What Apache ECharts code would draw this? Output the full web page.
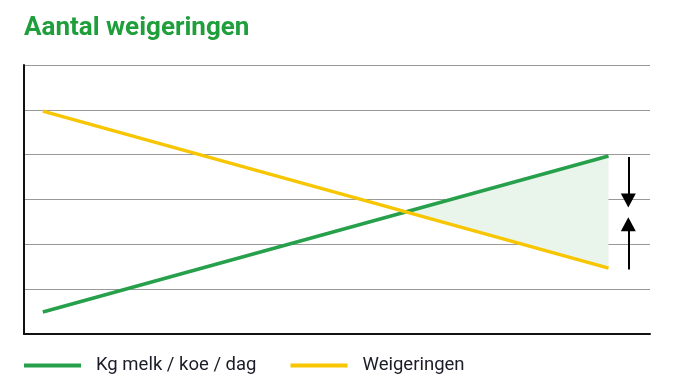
<!DOCTYPE html>
<html><head><meta charset="utf-8">
<script src="https://cdn.jsdelivr.net/npm/echarts@6/dist/echarts.min.js"></script>
<style>html,body{margin:0;padding:0;background:#fff}#c{width:674px;height:388px}</style>
</head><body><div id="c"></div>
<script>
const titleText = 'Aantal weigeringen';
const seriesNames = ['Kg melk / koe / dag', 'Weigeringen'];
const xPoints = [1, 31];
const melk = [0.49, 3.97];
const weigeringen = [4.97, 1.47];
// shaded gap region between the lines: crossing point, top end, bottom end
const gapPolygon = [[20.3, 2.72], [31, 3.97], [31, 1.47]];
// arrows beside the gap
const arrowX = 32.05;
const arrowDown = [3.95, 2.98];
const arrowUp = [1.44, 2.45];

const chart = echarts.init(document.getElementById('c'));
chart.setOption({
  animation: false,
  title: { text: titleText, left: 19, top: 10,
    textStyle: { color: '#1f9e3c', fontSize: 26, fontWeight: 'bold', fontFamily: 'Roboto' } },
  grid: { left: 24, right: 24, top: 65, bottom: 54 },
  xAxis: { type: 'value', min: 0, max: 33.2,
    axisLine: { show: true, lineStyle: { color: '#111', width: 2 } },
    axisTick: { show: false }, axisLabel: { show: false }, splitLine: { show: false } },
  yAxis: { type: 'value', min: 0, max: 6, interval: 1,
    axisLine: { show: true, lineStyle: { color: '#111', width: 2 } },
    axisTick: { show: false }, axisLabel: { show: false },
    splitLine: { show: true, lineStyle: { color: '#999', width: 1 } } },
  legend: { left: 19, top: 351, itemWidth: 57, itemHeight: 4, itemGap: 34, icon: 'rect',
    data: seriesNames,
    textStyle: { fontSize: 18.5, color: '#1c1c28', fontFamily: 'Roboto', padding: [0, 0, 0, 10] } },
  series: [
    { name: 'gap', type: 'custom', z: 1, silent: true,
      data: [0],
      renderItem: function (params, api) {
        const pts = gapPolygon.map(p => api.coord(p));
        return { type: 'polygon', shape: { points: pts }, style: { fill: '#e9f4ea' } };
      },
      markLine: { silent: true, symbol: ['none', 'triangle'], symbolSize: [15, 14], label: { show: false },
        lineStyle: { color: '#000', width: 2, type: 'solid' },
        data: [
          [{ coord: [arrowX, arrowDown[0]] }, { coord: [arrowX, arrowDown[1]] }],
          [{ coord: [arrowX, arrowUp[0]] }, { coord: [arrowX, arrowUp[1]] }]
        ] } },
    { name: seriesNames[0], type: 'line', symbol: 'none', z: 3, color: '#27a04c',
      data: xPoints.map((x, i) => [x, melk[i]]),
      lineStyle: { width: 3.5, color: '#27a04c' } },
    { name: seriesNames[1], type: 'line', symbol: 'none', z: 3, color: '#f7c600',
      data: xPoints.map((x, i) => [x, weigeringen[i]]),
      lineStyle: { width: 3.5, color: '#f7c600' } }
  ]
});
</script></body></html>
